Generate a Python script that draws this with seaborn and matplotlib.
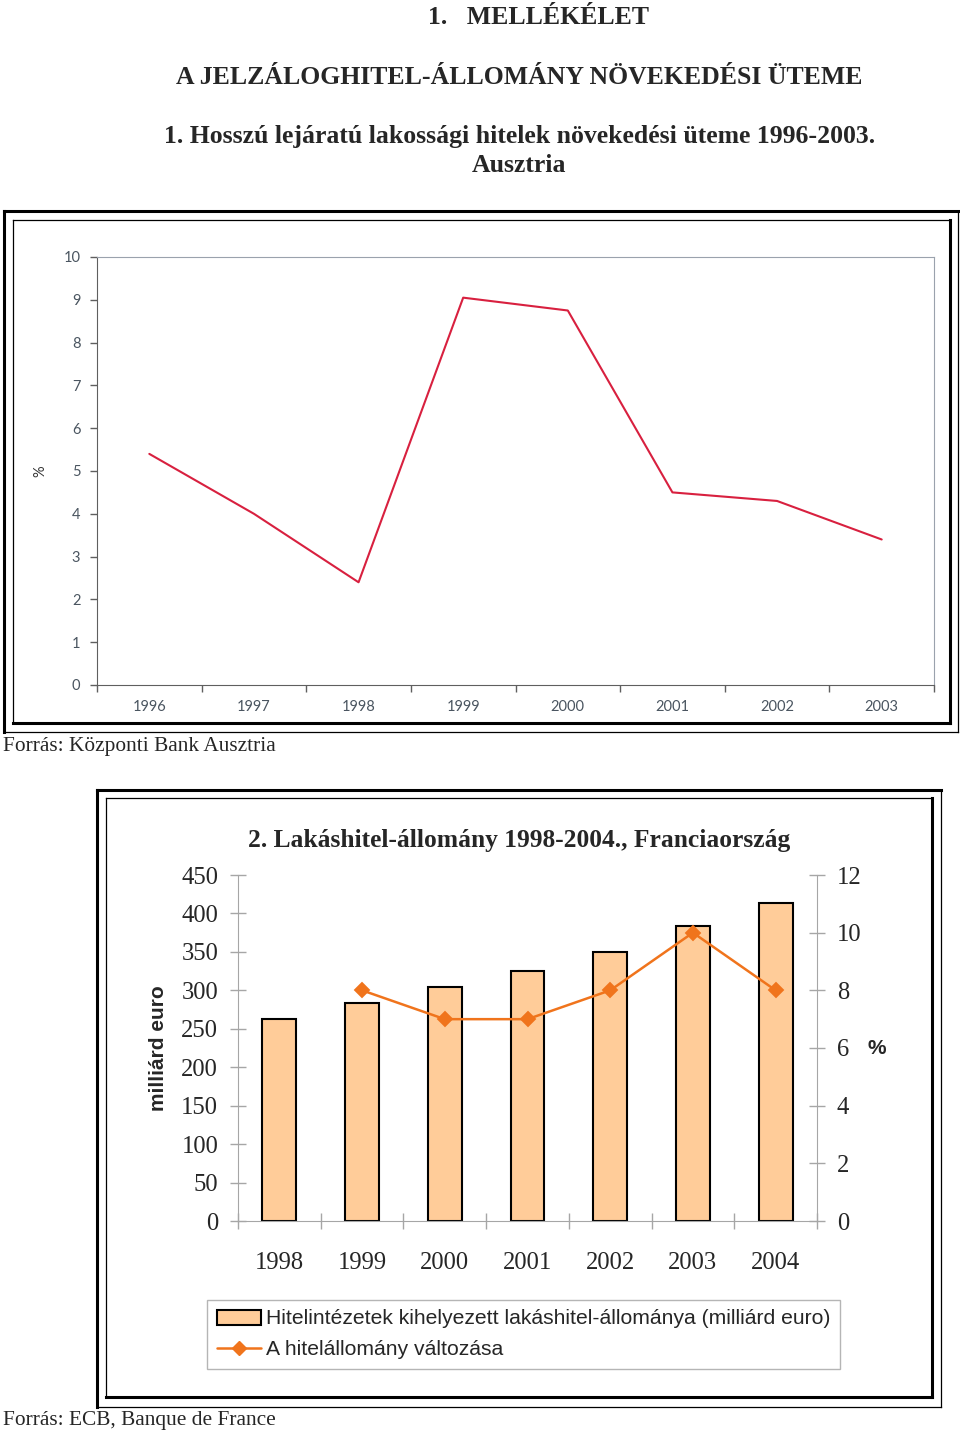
import matplotlib
matplotlib.use("Agg")
import matplotlib.pyplot as plt
from matplotlib.lines import Line2D
from matplotlib.patches import Patch
import numpy as np
import pandas as pd
import seaborn as sns

W, H = 960, 1434

# 1. chart: Austria, long-term household loan growth (%)
years_at = ["1996", "1997", "1998", "1999", "2000", "2001", "2002", "2003"]
growth_at = [5.4, 4.0, 2.4, 9.05, 8.75, 4.5, 4.3, 3.4]
ticks_at = list(range(0, 11))

# 2. chart: France, housing loan stock (bn euro) and its change (%)
years_fr = ["1998", "1999", "2000", "2001", "2002", "2003", "2004"]
stock_fr = [263, 284, 304, 325, 350, 384, 414]
change_years = ["1999", "2000", "2001", "2002", "2003", "2004"]
change_fr = [8, 7, 7, 8, 10, 8]
ticks_left = list(range(0, 451, 50))
ticks_right = list(range(0, 13, 2))

RED = "#d8203f"
PEACH = "#ffcc99"
ORANGE = "#f0741c"
GRAY = "#a6a6a6"
SERIF = ["Liberation Serif", "DejaVu Serif"]
SANS = ["Liberation Sans", "DejaVu Sans"]
CALI = ["Lato", "DejaVu Sans"]

sns.set_style("ticks")
plt.rcParams["font.family"] = SERIF

fig = plt.figure(figsize=(W / 100, H / 100), dpi=100)


def rect(x0, y0, x1, y1):
    # pixel box (top-left origin) -> figure fraction
    return [x0 / W, 1 - y1 / H, (x1 - x0) / W, (y1 - y0) / H]


def seg(x0, y0, x1, y1, lw):
    fig.add_artist(Line2D([x0 / W, x1 / W], [1 - y0 / H, 1 - y1 / H],
                          transform=fig.transFigure, color="black", lw=lw,
                          solid_capstyle="projecting"))


def frame(outer, inner, thick=2.2, thin=0.9):
    x0, y0, x1, y1 = outer
    seg(x0, y0, x1, y0, thick)
    seg(x0, y0, x0, y1, thick)
    seg(x1, y0, x1, y1, thin)
    seg(x0, y1, x1, y1, thin)
    x0, y0, x1, y1 = inner
    seg(x0, y0, x1, y0, thin)
    seg(x0, y0, x0, y1, thin)
    seg(x1, y0, x1, y1, thick)
    seg(x0, y1, x1, y1, thick)


# page headings
fig.text(428 / W, 1 - 18 / H, "1.   MELLÉKÉLET", ha="left", va="center",
         fontsize=18.5, fontweight="bold")
fig.text(519 / W, 1 - 77 / H, "A JELZÁLOGHITEL-ÁLLOMÁNY NÖVEKEDÉSI ÜTEME",
         ha="center", va="center", fontsize=18.5, fontweight="bold")
fig.text(520 / W, 1 - 136 / H,
         "1. Hosszú lejáratú lakossági hitelek növekedési üteme 1996-2003.",
         ha="center", va="center", fontsize=18.5, fontweight="bold")
fig.text(519 / W, 1 - 166 / H, "Ausztria", ha="center", va="center",
         fontsize=18.5, fontweight="bold")

# ---- chart 1
frame((4, 211, 958, 732), (13, 220, 950, 723))
ax1 = fig.add_axes(rect(97, 257, 934, 685))
sns.pointplot(x=years_at, y=growth_at, order=years_at, color=RED,
              errorbar=None, marker="", linestyle="-", linewidth=1.5, ax=ax1)
ax1.set_xlim(-0.5, len(years_at) - 0.5)
ax1.set_ylim(0, 10)
ax1.set_yticks(ticks_at)
ax1.set_xticks(np.arange(-0.5, len(years_at), 1))
ax1.set_xticklabels([])
ax1.set_xticks(range(len(years_at)), minor=True)
ax1.set_xticklabels(years_at, minor=True)
ax1.tick_params(axis="both", which="major", direction="out", length=5,
                width=1, color="#5f5f5f")
ax1.tick_params(axis="y", pad=7, labelsize=10.5, labelcolor="#4a5560")
ax1.tick_params(axis="x", which="minor", length=0, pad=11, labelsize=10.5,
                labelcolor="#4a5560")
for lbl in ax1.get_yticklabels() + ax1.get_xticklabels(minor=True):
    lbl.set_fontfamily(CALI)
for s in ["left", "bottom"]:
    ax1.spines[s].set_color("#5f5f5f")
for s in ["top", "right"]:
    ax1.spines[s].set_visible(True)
    ax1.spines[s].set_color("#9aa2ad")
ax1.set_xlabel("")
ax1.set_ylabel("%", fontsize=10.5, family=CALI, color="#333333",
               ha="center", va="center")
ax1.yaxis.set_label_coords((40 - 97) / 837, 0.5)

fig.text(3 / W, 1 - 746 / H, "Forrás: Központi Bank Ausztria", ha="left",
         va="center", fontsize=15.4)

# ---- chart 2
frame((97, 790, 941, 1407), (106, 798, 932, 1397))
fig.text(519 / W, 1 - 841 / H, "2. Lakáshitel-állomány 1998-2004., Franciaország",
         ha="center", va="center", fontsize=18.4, fontweight="bold")

ax = fig.add_axes(rect(238, 875, 817, 1221))
sns.barplot(x=years_fr, y=stock_fr, order=years_fr, color=PEACH,
            saturation=1, edgecolor="black", linewidth=1.5, width=0.41, ax=ax)
ax2 = ax.twinx()
chg = pd.DataFrame({"year": change_years, "change": change_fr})
sns.pointplot(data=chg, x="year", y="change", order=years_fr, color=ORANGE,
              errorbar=None, marker="D", markersize=7, linewidth=1.8, ax=ax2)

ax.set_xlim(-0.5, len(years_fr) - 0.5)
ax.set_ylim(0, 450)
ax2.set_ylim(0, 12)
ax.set_yticks(ticks_left)
ax2.set_yticks(ticks_right)
ax.set_xticks(np.arange(-0.5, len(years_fr), 1))
ax.set_xticklabels([])
ax.set_xticks(range(len(years_fr)), minor=True)
ax.set_xticklabels(years_fr, minor=True)

ax.tick_params(axis="both", which="major", direction="inout", length=11.5,
               width=1, color=GRAY)
ax.tick_params(axis="y", pad=8.5, labelsize=17.7)
ax.tick_params(axis="x", which="minor", length=0, pad=22, labelsize=17.7)
ax2.tick_params(axis="y", direction="inout", length=11.5, width=1, color=GRAY,
                pad=8.5, labelsize=17.7)

for s in ["top", "right"]:
    ax.spines[s].set_visible(False)
for s in ["left", "bottom"]:
    ax.spines[s].set_color(GRAY)
for s in ["top", "left", "bottom"]:
    ax2.spines[s].set_visible(False)
ax2.spines["right"].set_color(GRAY)

ax.set_xlabel("")
ax2.set_xlabel("")
ax.set_ylabel("milliárd euro", fontsize=15, fontweight="bold", family=SANS,
              ha="center", va="center")
ax.yaxis.set_label_coords((158 - 238) / 579, (1221 - 1048) / 346)
ax2.set_ylabel("%", rotation=0, fontsize=15, fontweight="bold", family=SANS,
               ha="center", va="center")
ax2.yaxis.set_label_coords((877 - 238) / 579, (1221 - 1049) / 346)

handles = [
    Patch(facecolor=PEACH, edgecolor="black", linewidth=1.5,
          label="Hitelintézetek kihelyezett lakáshitel-állománya (milliárd euro)"),
    Line2D([], [], color=ORANGE, lw=1.8, marker="D", markersize=7,
           label="A hitelállomány változása"),
]
leg = fig.legend(handles=handles, loc="upper left",
                 bbox_to_anchor=(207 / W, 1 - 1300 / H),
                 bbox_transform=fig.transFigure, borderaxespad=0,
                 frameon=True, fancybox=False, edgecolor="#b5b5b5",
                 framealpha=1, prop={"family": SANS, "size": 15.2},
                 handlelength=2.1, handletextpad=0.25, borderpad=0.45,
                 labelspacing=0.55)
leg.get_frame().set_linewidth(1)

fig.text(3 / W, 1 - 1420 / H, "Forrás: ECB, Banque de France", ha="left",
         va="center", fontsize=15.4)

fig.savefig("out.png", dpi=100)
